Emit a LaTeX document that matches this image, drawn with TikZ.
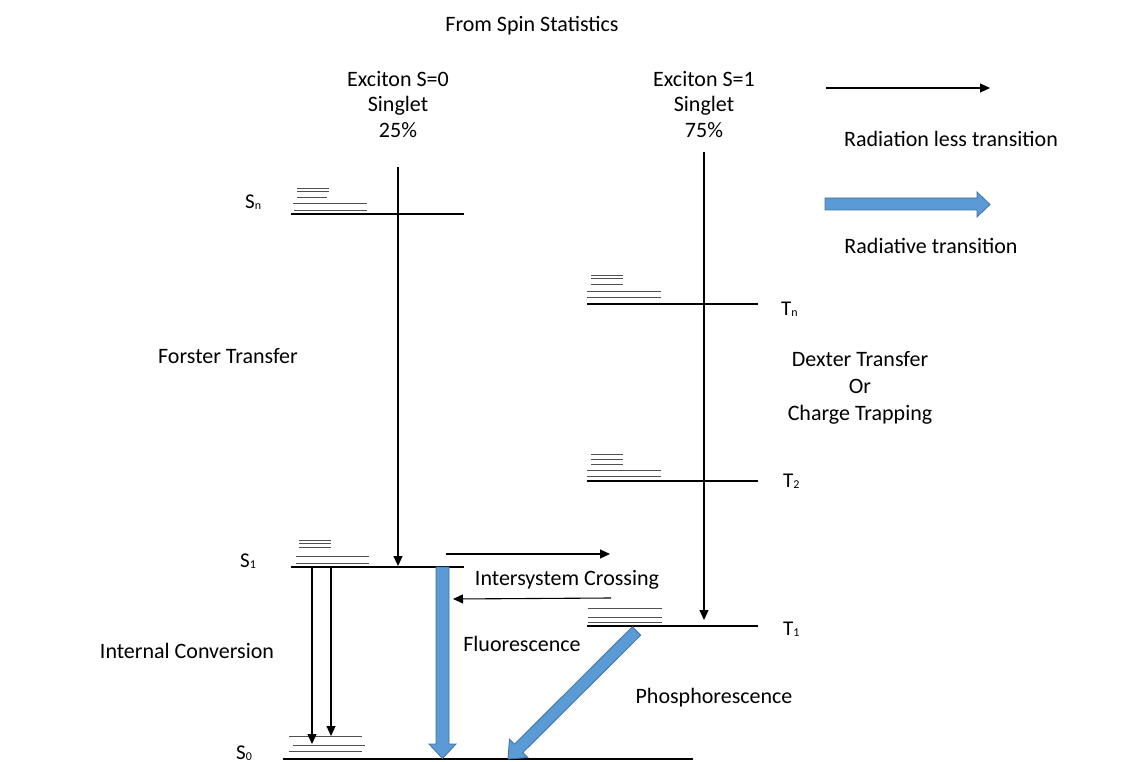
\documentclass[tikz,border=0pt]{standalone}
\usepackage{fontspec}
\setmainfont{Carlito}
\usetikzlibrary{arrows.meta}
\definecolor{fillblue}{RGB}{91,155,213}
\definecolor{edgeblue}{RGB}{65,113,156}
\definecolor{subgray}{RGB}{80,80,80}
\newcommand{\lvlname}[2]{#1\raisebox{-1.5pt}{\fontsize{12}{12}\selectfont #2}}
\begin{document}
\begin{tikzpicture}[x=1pt,y=-1pt,
  txt/.style={font=\fontsize{22}{25.5}\selectfont, align=center, inner sep=0pt, anchor=base},
  lbl/.style={font=\fontsize{21}{21}\selectfont, inner sep=0pt, anchor=base west},
  mainlvl/.style={line width=1.7pt, black},
  sublvl/.style={line width=0.9pt, subgray},
  arr/.style={line width=1.1pt, -{Triangle[length=10pt,width=9pt]}},
  radiative/.style={fill=fillblue, draw=edgeblue, line width=0.8pt, line join=miter}
]
\useasboundingbox (0,0) rectangle (1140,762);

% ---------- texts ----------
\node[txt] (title) at (532,32) {From Spin Statistics};
\node[txt, anchor=north] (exc0) at (398,71) {Exciton S=0\\Singlet\\25\%};
\node[txt, anchor=north] (exc1) at (704,71) {Exciton S=1\\Singlet\\75\%};
\node[txt] (rl) at (951,147) {Radiation less transition};
\node[txt] (rad) at (931,253) {Radiative transition};
\node[txt] (forster) at (228,363) {Forster Transfer};
\node[txt, anchor=north, font=\fontsize{22}{27}\selectfont] (dexter) at (860,351) {Dexter Transfer\\Or\\Charge Trapping};
\node[txt] (isc) at (567,585) {Intersystem Crossing};
\node[txt] (fluo) at (522,651) {Fluorescence};
\node[txt] (phos) at (714,703) {Phosphorescence};
\node[txt] (ic) at (187,658) {Internal Conversion};

\node[lbl] (lSn) at (245,208) {\lvlname{S}{n}};
\node[lbl] (lS1) at (240,567) {\lvlname{S}{1}};
\node[lbl] (lS0) at (236,759) {\lvlname{S}{0}};
\node[lbl] (lTn) at (781,315) {\lvlname{T}{n}};
\node[lbl] (lT2) at (783,487) {\lvlname{T}{2}};
\node[lbl] (lT1) at (783,635) {\lvlname{T}{1}};

% ---------- levels ----------
% Sn
\draw[mainlvl] (291,214) -- (464,214);
\draw[sublvl] (293,203) -- (367,203) (294,210) -- (367,210);
\draw[sublvl] (297,188) -- (329,188) (297,191) -- (329,191) (297,197) -- (327,197);
% S1
\draw[mainlvl] (291,567) -- (464,567);
\draw[sublvl] (296,556) -- (369,556) (296,563) -- (369,563);
\draw[sublvl] (299,540) -- (331,540) (299,543.5) -- (331,543.5) (299,547) -- (331,547);
% S0
\draw[mainlvl] (283,759) -- (693,759);
\draw[sublvl] (289,736) -- (362,736) (293,745) -- (365,745) (289,751) -- (362,751);
% Tn
\draw[mainlvl] (587,304) -- (758,304);
\draw[sublvl] (587,291) -- (661,291) (587,297) -- (661,297);
\draw[sublvl] (591,275) -- (623,275) (591,278) -- (623,278) (591,284) -- (623,284);
% T2
\draw[mainlvl] (587,481) -- (758,481);
\draw[sublvl] (587,470) -- (661,470) (587,476) -- (661,476);
\draw[sublvl] (591,454) -- (623,454) (591,459) -- (623,459) (591,464) -- (623,464);
% T1
\draw[mainlvl] (587,626) -- (758,626);
\draw[sublvl] (588,608) -- (662,608) (588,617) -- (662,617) (588,622) -- (662,622);

% ---------- coordinates ----------
\coordinate (forsterTop) at (398,167);
\coordinate (forsterEnd) at (398,566);
\coordinate (dexterTop) at (704,152);
\coordinate (dexterEnd) at (704,620);
\coordinate (icAtop) at (312,567);
\coordinate (icAend) at (312,744);
\coordinate (icBtop) at (331,567);
\coordinate (icBend) at (331,736);
\coordinate (iscAstart) at (446,554);
\coordinate (iscAend) at (610,554);
\coordinate (iscBstart) at (611,598);
\coordinate (iscBend) at (453,599);
\coordinate (legStart) at (826,88);
\coordinate (legEnd) at (990,88);

% ---------- radiationless transitions ----------
\draw[arr] (forsterTop) -- (forsterEnd);
\draw[arr] (dexterTop) -- (dexterEnd);
\draw[arr] (icAtop) -- (icAend);
\draw[arr] (icBtop) -- (icBend);
\draw[arr] (iscAstart) -- (iscAend);
\draw[arr] (iscBstart) -- (iscBend);
\draw[arr] (legStart) -- (legEnd);

% ---------- radiative transitions ----------
% Fluorescence
\draw[radiative] (436,567) -- (449,567) -- (449,744) -- (456,744) -- (442.5,758.5) -- (429,744) -- (436,744) -- cycle;
% Phosphorescence
\draw[radiative] (632.3,626.8) -- (640.7,635.2) -- (522.8,752.6) -- (527.8,757.6) -- (508,759) -- (509.4,739.2) -- (514.4,744.2) -- cycle;
% Legend
\draw[radiative] (825,198) -- (977,198) -- (977,192) -- (990,204.5) -- (977,217) -- (977,210) -- (825,210) -- cycle;
\end{tikzpicture}
\end{document}
